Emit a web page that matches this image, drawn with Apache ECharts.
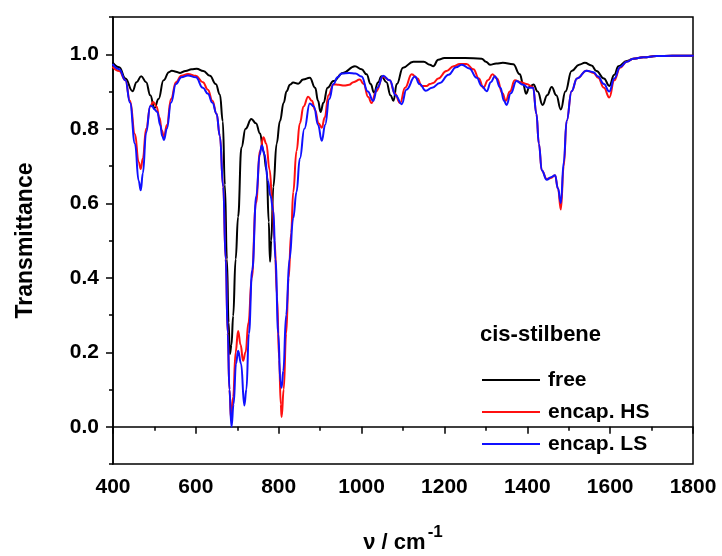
<!DOCTYPE html>
<html>
<head>
<meta charset="utf-8">
<script src="https://cdn.jsdelivr.net/npm/echarts@6/dist/echarts.min.js"></script>
<style>
html,body{margin:0;padding:0;background:#fff;}
#chart{width:722px;height:556px;}
</style>
</head>
<body>
<div id="chart"></div>
<script>
// ---------- data (wavenumber in cm^-1, transmittance) ----------
const xTicks = [400, 600, 800, 1000, 1200, 1400, 1600, 1800];
const yTickLabels = [0.0, 0.2, 0.4, 0.6, 0.8, 1.0];
const seriesNames = ['free', 'encap. HS', 'encap. LS'];

const freeX = [400,415,430,447,457,468,480,490,500,510,522,535,542,552,562,575,590,602,618,634,648,658,665,670,675,679,682,686,690,696,702,710,720,734,745,755,763,771,776,779,782,787,795,803,812,819,827,835,847,859,875,888,895,901,908,918,932,955,984,1000,1012,1022,1030,1040,1048,1060,1070,1077,1085,1100,1125,1150,1165,1173,1185,1200,1250,1290,1300,1310,1325,1341,1366,1382,1390,1397,1405,1415,1425,1437,1448,1459,1470,1481,1492,1507,1525,1539,1555,1567,1585,1598,1610,1620,1640,1656,1680,1712,1750,1800];
const freeY = [0.977,0.965,0.935,0.901,0.925,0.941,0.925,0.89,0.855,0.88,0.93,0.952,0.956,0.953,0.950,0.955,0.960,0.961,0.955,0.942,0.92,0.892,0.82,0.65,0.45,0.28,0.195,0.22,0.297,0.45,0.564,0.75,0.80,0.826,0.815,0.787,0.74,0.688,0.55,0.443,0.5,0.644,0.76,0.821,0.87,0.901,0.918,0.924,0.921,0.932,0.937,0.91,0.875,0.845,0.87,0.91,0.928,0.95,0.968,0.96,0.946,0.92,0.897,0.925,0.941,0.925,0.89,0.875,0.92,0.964,0.98,0.98,0.972,0.968,0.985,0.99,0.99,0.988,0.98,0.972,0.975,0.977,0.973,0.946,0.92,0.894,0.912,0.919,0.9,0.864,0.89,0.912,0.89,0.852,0.9,0.955,0.972,0.977,0.97,0.955,0.935,0.915,0.945,0.968,0.982,0.988,0.992,0.995,0.996,0.996];

const hsX = [400,415,430,441,453,462,467,472,480,490,497,505,512,518,523,530,540,552,565,581,600,617,629,640,650,658,666,672,677,681,685,690,696,702,708,714,720,727,735,745,755,763,770,778,785,790,796,801,805,807,812,818,824,830,835,843,851,860,871,880,888,896,904,911,920,932,945,958,970,980,996,1005,1016,1024,1035,1052,1068,1080,1093,1105,1121,1135,1145,1157,1165,1173,1185,1205,1222,1237,1253,1270,1283,1294,1305,1316,1327,1340,1348,1358,1370,1385,1398,1414,1422,1428,1435,1447,1457,1467,1474,1481,1488,1495,1507,1520,1543,1560,1571,1585,1598,1610,1624,1640,1656,1680,1712,1750,1800];
const hsY = [0.965,0.955,0.93,0.875,0.786,0.71,0.692,0.72,0.8,0.86,0.872,0.86,0.83,0.795,0.777,0.81,0.88,0.925,0.942,0.947,0.942,0.925,0.905,0.875,0.84,0.78,0.644,0.45,0.25,0.10,0.02,0.08,0.2,0.257,0.22,0.177,0.2,0.28,0.4,0.6,0.74,0.777,0.76,0.69,0.6,0.5,0.35,0.18,0.06,0.026,0.1,0.25,0.4,0.52,0.63,0.74,0.815,0.86,0.886,0.875,0.85,0.815,0.803,0.83,0.89,0.919,0.918,0.916,0.918,0.925,0.932,0.92,0.885,0.869,0.9,0.94,0.93,0.895,0.869,0.91,0.946,0.935,0.915,0.915,0.92,0.923,0.935,0.955,0.968,0.974,0.974,0.96,0.935,0.91,0.93,0.946,0.935,0.895,0.875,0.9,0.93,0.925,0.92,0.912,0.84,0.76,0.688,0.665,0.668,0.675,0.64,0.583,0.7,0.821,0.901,0.935,0.956,0.95,0.937,0.91,0.884,0.93,0.964,0.98,0.988,0.992,0.995,0.996,0.996];

const lsX = [400,415,430,441,453,462,467,472,480,490,495,500,507,514,519,523,530,540,552,565,581,600,617,629,640,650,658,666,672,677,681,686,691,697,702,709,717,722,728,736,746,754,759,766,774,780,787,792,799,804,807,811,818,826,835,843,851,862,875,885,895,904,912,922,932,942,952,970,985,1000,1015,1028,1038,1052,1068,1082,1097,1108,1129,1140,1155,1170,1189,1210,1228,1242,1260,1278,1290,1302,1312,1322,1335,1344,1350,1360,1374,1390,1402,1414,1422,1428,1435,1447,1457,1467,1474,1481,1488,1495,1507,1520,1543,1560,1571,1585,1598,1610,1624,1640,1656,1680,1712,1750,1800];
const lsY = [0.972,0.96,0.93,0.87,0.76,0.66,0.635,0.68,0.79,0.862,0.86,0.852,0.845,0.81,0.78,0.77,0.8,0.87,0.92,0.938,0.943,0.938,0.91,0.894,0.87,0.84,0.78,0.644,0.45,0.25,0.10,0.0,0.06,0.17,0.204,0.17,0.057,0.1,0.25,0.42,0.62,0.73,0.755,0.73,0.66,0.62,0.58,0.45,0.25,0.12,0.105,0.15,0.3,0.45,0.56,0.63,0.72,0.8,0.868,0.86,0.81,0.768,0.81,0.88,0.92,0.938,0.948,0.95,0.948,0.94,0.9,0.875,0.91,0.942,0.93,0.89,0.866,0.905,0.94,0.92,0.902,0.91,0.923,0.945,0.965,0.972,0.962,0.937,0.915,0.901,0.925,0.941,0.91,0.875,0.864,0.895,0.928,0.918,0.91,0.91,0.84,0.76,0.688,0.663,0.67,0.675,0.64,0.601,0.71,0.821,0.901,0.935,0.956,0.952,0.94,0.92,0.9,0.935,0.966,0.98,0.988,0.992,0.995,0.996,0.996];

const colors = ['#000000', '#ff1010', '#1010ff'];

function pairs(xs, ys) { return xs.map((x, i) => [x, ys[i]]); }

const FONT = '"Liberation Sans", Arial, sans-serif';

const chart = echarts.init(document.getElementById('chart'), null, {renderer: 'canvas'});

const seriesData = [pairs(freeX, freeY), pairs(hsX, hsY), pairs(lsX, lsY)];

const option = {
  animation: false,
  backgroundColor: '#fff',
  grid: {left: 113, right: 29, top: 17, bottom: 92, outerBoundsMode: 'none', containLabel: false,
         show: true, borderColor: '#000', borderWidth: 1.5, backgroundColor: 'transparent'},
  legend: {
    orient: 'vertical',
    left: 482,
    top: 368,
    padding: 0,
    itemWidth: 58,
    itemHeight: 2,
    itemGap: 8,
    icon: 'rect',
    data: seriesNames,
    textStyle: {fontFamily: FONT, fontWeight: 'bold', fontSize: 21, color: '#000', lineHeight: 24, padding: [0, 0, 0, 3]}
  },
  graphic: [{
    type: 'text', left: 480, top: 324,
    style: {text: 'cis-stilbene', fontFamily: FONT, fontWeight: 'bold', fontSize: 22, fill: '#000'}
  }],
  xAxis: {
    type: 'value', min: xTicks[0], max: xTicks[xTicks.length - 1], interval: 200,
    name: '{a|ν / cm}{b|-1}', nameLocation: 'middle', nameGap: 60,
    nameTextStyle: {rich: {
      a: {fontFamily: FONT, fontWeight: 'bold', fontSize: 22, color: '#000', verticalAlign: 'bottom', lineHeight: 30},
      b: {fontFamily: FONT, fontWeight: 'bold', fontSize: 17, color: '#000', verticalAlign: 'top', lineHeight: 30, padding: [0, 0, 0, 2]}
    }},
    axisLine: {lineStyle: {color: '#000', width: 1.5}},
    axisTick: {length: 7, lineStyle: {color: '#000', width: 1.5}},
    minorTick: {show: true, splitNumber: 2, length: 4, lineStyle: {color: '#000', width: 1.5}},
    splitLine: {show: false},
    axisLabel: {margin: 13, fontFamily: FONT, fontWeight: 'bold', fontSize: 21, color: '#000',
      formatter: function (v) { return String(Math.round(v)); }}
  },
  yAxis: [{
    type: 'value', min: -0.1, max: 1.1, interval: 0.1,
    name: 'Transmittance', nameLocation: 'middle', nameGap: 76,
    nameTextStyle: {fontFamily: FONT, fontWeight: 'bold', fontSize: 23, color: '#000'},
    axisLine: {lineStyle: {color: '#000', width: 1.5}},
    axisTick: {length: 4, lineStyle: {color: '#000', width: 1.5}},
    splitLine: {show: false},
    axisLabel: {
      margin: 14, fontFamily: FONT, fontWeight: 'bold', fontSize: 21, color: '#000',
      formatter: function (v) {
        const k = Math.round(v * 10);
        if (k % 2 !== 0) return '';
        const t = yTickLabels.find(l => Math.abs(l - v) < 1e-6);
        return t === undefined ? '' : t.toFixed(1);
      }
    }
  }, {
    type: 'value', min: -0.1, max: 1.1, position: 'left',
    axisLine: {show: false},
    axisTick: {show: true, length: 7, customValues: yTickLabels, lineStyle: {color: '#000', width: 1.5}},
    axisLabel: {show: false},
    splitLine: {show: false}
  }],
  series: seriesNames.map((n, i) => ({
    name: n, type: 'line', yAxisIndex: 0,
    data: seriesData[i],
    showSymbol: false, symbol: 'none',
    smooth: 0.45, smoothMonotone: 'x',
    lineStyle: {color: colors[i], width: 2, join: 'round', cap: 'round'},
    itemStyle: {color: colors[i]},
    z: 2 + i
  }))
};
chart.setOption(option);
</script>
</body>
</html>
